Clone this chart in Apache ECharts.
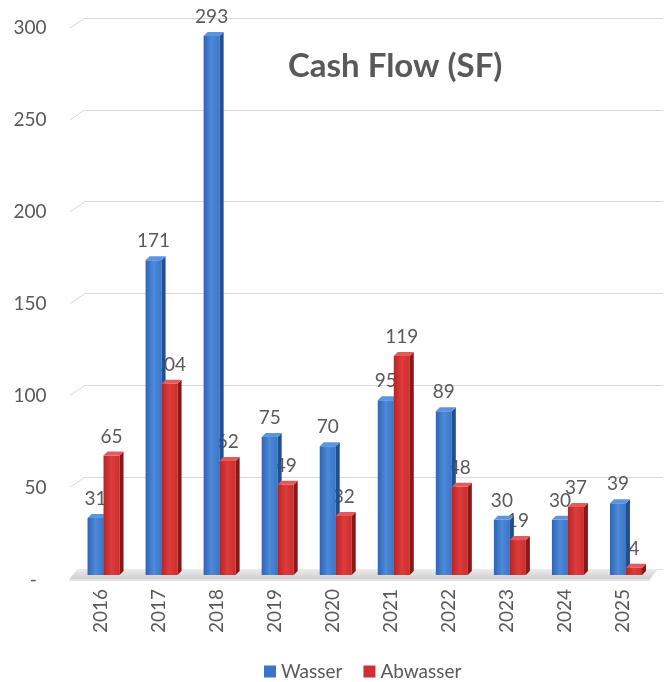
<!DOCTYPE html>
<html>
<head>
<meta charset="utf-8">
<script src="https://cdn.jsdelivr.net/npm/echarts@6/dist/echarts.min.js"></script>
<style>html,body{margin:0;padding:0;background:#fff;}#c{width:665px;height:682px;}</style>
</head>
<body>
<div id="c"></div>
<script>
var years = ['2016','2017','2018','2019','2020','2021','2022','2023','2024','2025'];
var wasser = [31, 171, 293, 75, 70, 95, 89, 30, 30, 39];
var abwasser = [65, 104, 62, 49, 32, 119, 48, 19, 37, 4];
var yTicks = [0, 50, 100, 150, 200, 250, 300];
var seriesNames = ['Wasser', 'Abwasser'];

var FONT = 'Lato';
var TXT = '#595959';
var W = 16, D = 4;

function lin(a, b, c) {
  return {type:'linear', x:0, y:0, x2:1, y2:0, colorStops:[{offset:0,color:a},{offset:0.5,color:b},{offset:1,color:c}]};
}
var pal = {
  blue: {front: lin('#2f64b3','#4d8ad9','#3a74c6'), side:'#22508f', top:'#5c95df', base:'#3a74c6'},
  red:  {front: lin('#b52626','#df3b3b','#c92f2f'), side:'#8a1818', top:'#e45a5a', base:'#cc3030'}
};

function barRender(offset, p) {
  return function(params, api) {
    var c = api.coord([api.value(0), api.value(1)]);
    var b = api.coord([api.value(0), 0]);
    var x = c[0] + offset, t = c[1], bt = b[1];
    return {type:'group', children:[
      {type:'rect', shape:{x:x, y:t, width:W, height:bt - t}, style:{fill:p.front}},
      {type:'polygon', shape:{points:[[x+W,t],[x+W+D,t-D],[x+W+D,bt-D],[x+W,bt]]}, style:{fill:p.side}},
      {type:'polygon', shape:{points:[[x,t],[x+D,t-D],[x+W+D,t-D],[x+W,t]]}, style:{fill:p.top}}
    ]};
  };
}
function labelRender(offset) {
  return function(params, api) {
    var c = api.coord([api.value(0), api.value(1)]);
    return {type:'text', x:c[0] + offset + W/2, y:c[1] - 19,
      style:{text:String(api.value(1)), fill:TXT, font:'19px ' + FONT, align:'center', verticalAlign:'middle'}};
  };
}
function floorRender(params, api) {
  var cs = params.coordSys;
  var y0 = api.coord([0, 0])[1];
  return {type:'group', children:[
    {type:'polygon', shape:{points:[[cs.x-2, y0+4],[cs.x+6, y0-6],[cs.x+cs.width+6, y0-6],[cs.x+cs.width-2, y0+4]]},
      style:{fill:{type:'linear',x:0,y:0,x2:0,y2:1,colorStops:[{offset:0,color:'#ececec'},{offset:1,color:'#cfcfcf'}]}}},
    {type:'rect', shape:{x:cs.x-2, y:y0+4, width:cs.width, height:2}, style:{fill:'#e3e3e3'}}
  ]};
}
function gridSlant(params, api) {
  var p = api.coord([0, api.value(1)]);
  return {type:'line', shape:{x1:p[0]-15, y1:p[1]+10, x2:p[0], y2:p[1]}, style:{stroke:'#d9d9d9', lineWidth:1}};
}

var chart = echarts.init(document.getElementById('c'), null, {renderer:'canvas'});
var option = {
  backgroundColor:'#fff',
  animation:false,
  textStyle:{fontFamily:FONT},
  title:{text:'Cash Flow (SF)', left:283, top:45, textStyle:{fontFamily:FONT, fontSize:33, fontWeight:'bold', color:TXT}},
  legend:{data:seriesNames, top:657, left:259, icon:'rect', itemWidth:12, itemHeight:12, itemGap:21,
    textStyle:{fontFamily:FONT, fontSize:19, color:TXT}},
  grid:[
    {left:71.5, right:13, top:23, bottom:107},
    {left:85, right:2, top:18, bottom:113},
    {left:71.5, right:13, top:28, bottom:102}
  ],
  xAxis:[
    {type:'category', data:years, gridIndex:0, axisLine:{show:false}, axisTick:{show:false},
      axisLabel:{rotate:90, margin:14, fontSize:19, color:TXT, fontFamily:FONT}},
    {type:'value', gridIndex:1, min:0, max:1, show:false},
    {type:'value', gridIndex:2, min:0, max:1, show:false}
  ],
  yAxis:[
    {type:'value', gridIndex:0, min:0, max:300, interval:50, show:false, splitLine:{show:false}},
    {type:'value', gridIndex:1, min:0, max:300, interval:50, axisLine:{show:false}, axisTick:{show:false}, axisLabel:{show:false},
      splitLine:{lineStyle:{color:'#d9d9d9', width:1}}},
    {type:'value', gridIndex:2, min:0, max:300, interval:50, splitLine:{show:false}, axisLine:{show:false}, axisTick:{show:false},
      axisLabel:{margin:25, fontSize:19, color:TXT, fontFamily:FONT,
        formatter:function(v){ return v === 0 ? '-  ' : String(v); }}}
  ],
  series:[
    {type:'custom', name:'slant', xAxisIndex:1, yAxisIndex:1, renderItem:gridSlant, silent:true, z:1,
      data:yTicks.slice(1).map(function(v){ return [0, v]; })},
    {type:'custom', name:'floor', xAxisIndex:0, yAxisIndex:0, renderItem:floorRender, silent:true, z:2, data:[[0,0]]},
    {type:'custom', name:'lblW', xAxisIndex:0, yAxisIndex:0, renderItem:labelRender(-13), z:3,
      data:wasser.map(function(v,i){ return [i, v]; })},
    {type:'custom', name:'lblA', xAxisIndex:0, yAxisIndex:0, renderItem:labelRender(3), z:3,
      data:abwasser.map(function(v,i){ return [i, v]; })},
    {type:'custom', name:seriesNames[0], xAxisIndex:0, yAxisIndex:0, renderItem:barRender(-13, pal.blue), z:4,
      itemStyle:{color:pal.blue.base}, data:wasser.map(function(v,i){ return [i, v]; })},
    {type:'custom', name:seriesNames[1], xAxisIndex:0, yAxisIndex:0, renderItem:barRender(3, pal.red), z:5,
      itemStyle:{color:pal.red.base}, data:abwasser.map(function(v,i){ return [i, v]; })}
  ]
};
chart.setOption(option);
</script>
</body>
</html>
